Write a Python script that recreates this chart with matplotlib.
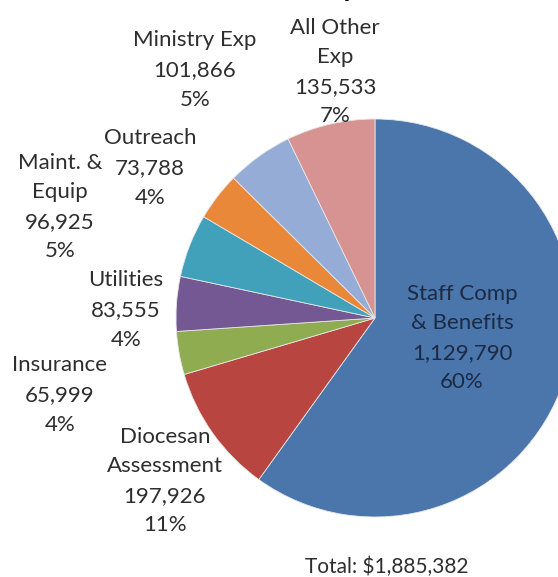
import matplotlib.pyplot as plt

# expense data, in the order the slices go round (clockwise from 12 o'clock)
categories = ["Staff Comp\n& Benefits", "Diocesan\nAssessment", "Insurance", "Utilities",
              "Maint. &\nEquip", "Outreach", "Ministry Exp", "All Other\nExp"]
amounts = [1129790, 197926, 65999, 83555, 96925, 73788, 101866, 135533]
percents = [60, 11, 4, 4, 5, 4, 5, 7]
colors = ["#4a76ab", "#b8453f", "#8fad50", "#735893", "#41a1ba", "#e98839", "#94acd6", "#d69391"]

# label block centres in pixel coords (x from left, y from top)
label_xy = [(462, 338), (165, 481), (60, 395), (126, 310),
            (60, 207), (150, 168), (195, 70), (335, 72)]

W, H = 558, 577
fig = plt.figure(figsize=(W / 100, H / 100), dpi=100)
ax = fig.add_axes([0, 0, 1, 1])

total = sum(amounts)
ax.pie(amounts, colors=colors, startangle=90, counterclock=False,
       center=(375, H - 318), radius=199, frame=True,
       wedgeprops=dict(edgecolor="#e6e6e6", linewidth=0.6))
ax.set_xlim(0, W)
ax.set_ylim(0, H)
ax.set_aspect("equal")
ax.axis("off")

font = "Lato"
for i, (cat, amt, pct) in enumerate(zip(categories, amounts, percents)):
    txt = f"{cat}\n{amt:,}\n{pct}%"
    x, y = label_xy[i]
    col = "#1c2a44" if i == 0 else "#2e2e2e"
    ax.text(x, H - y, txt, ha="center", va="center", fontsize=16,
            family=font, color=col, linespacing=1.6)

ax.text(387, H - 567, f"Total: \\${total:,}", ha="center", va="center",
        fontsize=15, family=font, color="#2e2e2e")

# title sits above the visible area, only a descender peeks in
fig.text(314 / W, 1 + 4 / H, "Expenses", ha="left", va="baseline",
         fontsize=20, fontweight="bold", family=font, color="black")

fig.savefig("out.png", dpi=100)
